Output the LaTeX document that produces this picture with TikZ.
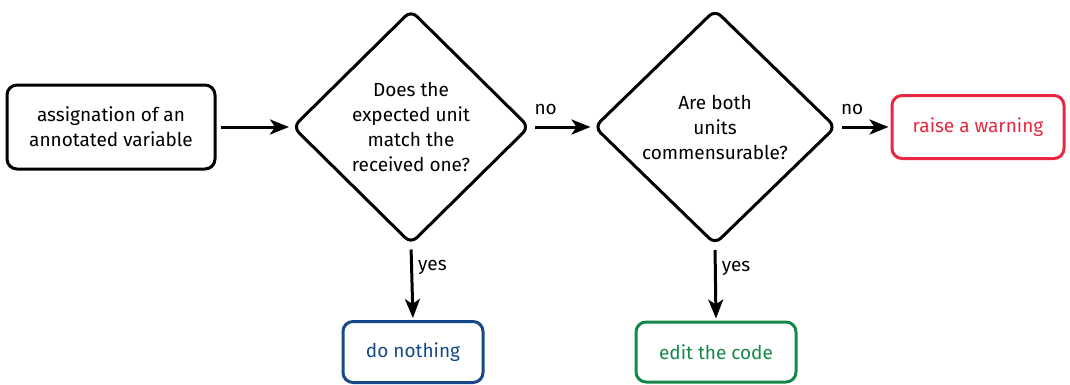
\documentclass[tikz,border=0pt]{standalone}
\usepackage{fontspec}
\setmainfont{Fira Sans}
\usetikzlibrary{shapes.geometric,arrows.meta}
\definecolor{warnred}{RGB}{230,40,65}
\definecolor{nothingblue}{RGB}{22,72,135}
\definecolor{editgreen}{RGB}{22,135,72}
\begin{document}
\begin{tikzpicture}[x=1pt,y=1pt,line width=3pt]
 	\def \rowtwoht{257}
 	\def \rowoneht{32}
 	\tikzstyle{box-node}=[rectangle,rounded corners=10pt,draw=black,align=center,inner sep=0pt,font=\fontsize{19}{25}\selectfont]
 	\tikzstyle{q-node}=[diamond,draw=black,rounded corners=8pt,align=center,inner sep=0pt,font=\fontsize{19}{25}\selectfont]
 	\tikzstyle{annot}=[font=\fontsize{19}{22}\selectfont,inner sep=2pt]
 	\tikzstyle{flow}=[-{Stealth[length=19pt,width=15pt,inset=5pt]},shorten <=4pt,shorten >=2pt]
 	\useasboundingbox (0,0) rectangle (1070,384);
 	\node[box-node,minimum width=208,minimum height=84] (assign) at (111,\rowtwoht) {assignation of an\\annotated variable};
 	\node[q-node,minimum width=237,minimum height=234] (match) at (411,\rowtwoht) {Does the\\expected unit\\match the\\received one?};
 	\node[q-node,minimum width=242,minimum height=235] (commens) at (715,\rowtwoht) {Are both\\units\\commensurable?};
 	% outcomes
 	\node[box-node,draw=warnred,text=warnred,minimum width=172,minimum height=63] (warning) at (978,\rowtwoht) {raise a warning};
 	\node[box-node,draw=nothingblue,text=nothingblue,minimum width=140,minimum height=61] (nothing) at (413,\rowoneht) {do nothing};
 	\node[box-node,draw=editgreen,text=editgreen,minimum width=160,minimum height=60] (edit) at (716,\rowoneht) {edit the code};
 	\path[flow] (assign)	edge	node	{}	(match)
		(match.east)	edge	node[annot,pos=0,above right,yshift=9pt] {no}	(commens.west)
		(commens.east)	edge	node[annot,pos=0,above right,yshift=9pt] {no}	(warning.west)
		(match.south)	edge	node[annot,pos=0.3,right,xshift=3pt] {yes}	(nothing.north)
		(commens.south)	edge	node[annot,pos=0.3,right,xshift=3pt] {yes}	(edit.north);
\end{tikzpicture}
\end{document}
